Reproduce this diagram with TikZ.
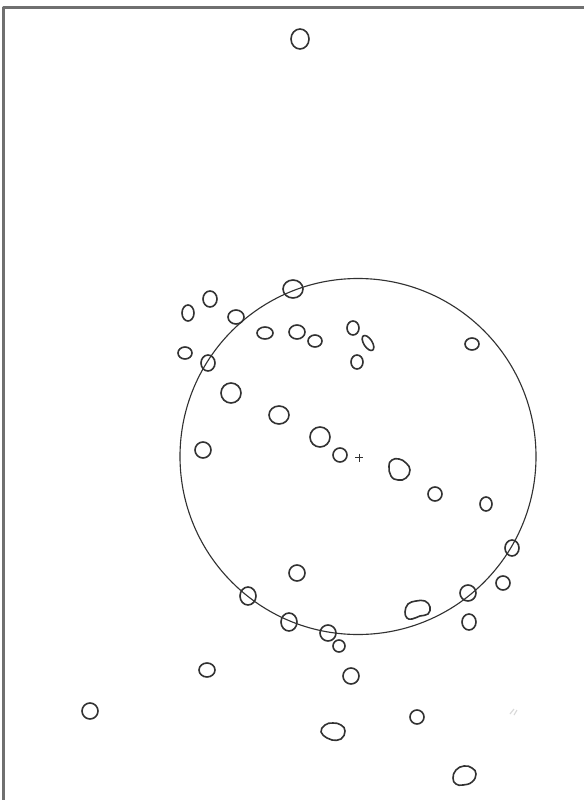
\documentclass[tikz,border=0pt]{standalone}
\usepackage{xcolor}
\definecolor{ink}{RGB}{50,50,50}
\definecolor{edge}{RGB}{112,112,112}
\tikzset{
  blob/.style={draw=ink, line width=1.15pt},
  rim/.style={draw=ink, line width=0.8pt},
  scanedge/.style={draw=edge, line width=1.6pt}
}
\begin{document}
\begin{tikzpicture}[x=0.025cm, y=-0.025cm, line join=round]
  \useasboundingbox (0,0) rectangle (584,800);
  % --- scan edge (top and left only) ---------------------------------------
  \draw[scanedge] (3.5,800) -- (3.5,7.5) -- (584,7.5);
  % --- the big circle and its centre mark ------------------------------------
  \draw[rim] (358,456.5) ellipse [x radius=178, y radius=178];
  \draw[ink, line width=0.6pt] (355,457.5) -- (363,457.5) (359,453.5) -- (359,461.5);
  % --- round blobs: centre x / centre y / x radius / y radius ---------------
  \foreach \x/\y/\rx/\ry in {
      300/39/9/10,
      293/289/10/9,   210/299/7/8,    188/313/6/8,    236/317/8/7,
      265/333/8/6,    297/332/8/7,    315/341/7/6,    353/328/6/7,
      357/362/6/7,    185/353/7/6,    208/363/7/8,    231/393/10/10,
      279/415/10/9,   320/437/10/10,  340/455/7/7,    203/450/8/8,
      472/344/7/6,    435/494/7/7,    486/504/6/7,
      297/573/8/8,    248/596/8/9,    289/622/8/9,    328/633/8/8,
      339/646/6/6,    207/670/8/7,    351/676/8/8,    90/711/8/8,
      512/548/7/8,    503/583/7/7,    468/593/8/8,    469/622/7/8,
      417/717/7/7}
     \draw[blob] (\x,\y) ellipse [x radius=\rx, y radius=\ry];
  % tilted oval beside the top group
  \draw[blob] (368,343) ellipse [x radius=8.5, y radius=4.2, rotate=-57];
  % --- irregular blobs --------------------------------------------------------
  \draw[blob] plot[smooth cycle, tension=0.8] coordinates
     {(389,466) (392,460) (399,459) (406,463) (410,470) (406,478) (398,480) (391,476)};
  \draw[blob] plot[smooth cycle, tension=0.7] coordinates
     {(405,612) (408,604) (416,601) (425,601) (430,607) (428,614) (420,616) (412,619) (407,618)};
  \draw[blob] plot[smooth cycle, tension=0.8] coordinates
     {(321,732) (325,725) (333,723) (341,725) (345,731) (341,739) (332,740) (327,738)};
  \draw[blob] plot[smooth cycle, tension=0.8] coordinates
     {(453,778) (456,770) (464,766) (472,768) (476,774) (472,782) (463,785) (456,784)};
  % faint pencil smudge
  \draw[black!15, line width=0.8pt] (510,714) -- (514,709) (514,715) -- (517,710);
\end{tikzpicture}
\end{document}
